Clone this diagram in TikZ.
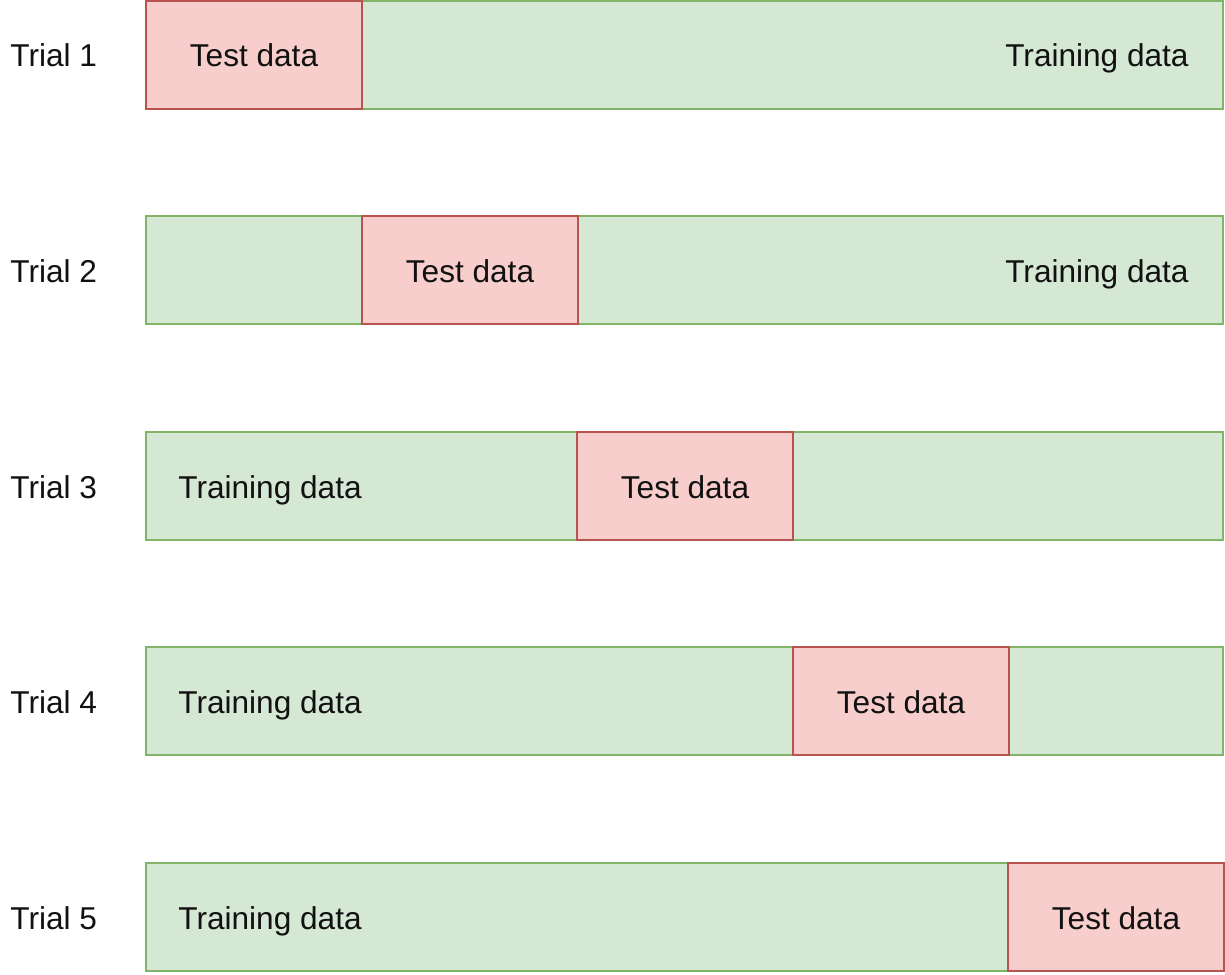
\documentclass[tikz,border=0pt]{standalone}
\usepackage{fontspec}
\setmainfont{Liberation Sans}
\definecolor{gfill}{HTML}{D5E8D4}
\definecolor{gline}{HTML}{82B366}
\definecolor{rfill}{HTML}{F8CECC}
\definecolor{rline}{HTML}{B85450}
\definecolor{txt}{HTML}{111111}
\begin{document}
\begin{tikzpicture}[x=0.5pt,y=-0.5pt,
  train/.style={draw=gline,fill=gfill,line width=1pt},
  test/.style={draw=rline,fill=rfill,line width=1pt},
  lbl/.style={font=\fontsize{15.8}{18}\selectfont,text=txt,inner sep=0pt}]
\useasboundingbox (0,0) rectangle (1225,974);
\foreach \i/\y/\tx in {1/1/146,2/216/362,3/432/577,4/647/793,5/863/1008}{
  \path[train] (146,\y) rectangle (1223,\y+108);
  \path[test] (\tx,\y) rectangle (\tx+216,\y+108);
  \node[lbl,anchor=base west] (trial\i) at (10,\y+66) {Trial \i};
  \node[lbl,anchor=base] (test\i) at (\tx+108,\y+66) {Test data};
}
\node[lbl,anchor=base east] (tr1) at (1189,67) {Training data};
\node[lbl,anchor=base east] (tr2) at (1189,282) {Training data};
\node[lbl,anchor=base west] (tr3) at (178,498) {Training data};
\node[lbl,anchor=base west] (tr4) at (178,713) {Training data};
\node[lbl,anchor=base west] (tr5) at (178,929) {Training data};
\end{tikzpicture}
\end{document}
